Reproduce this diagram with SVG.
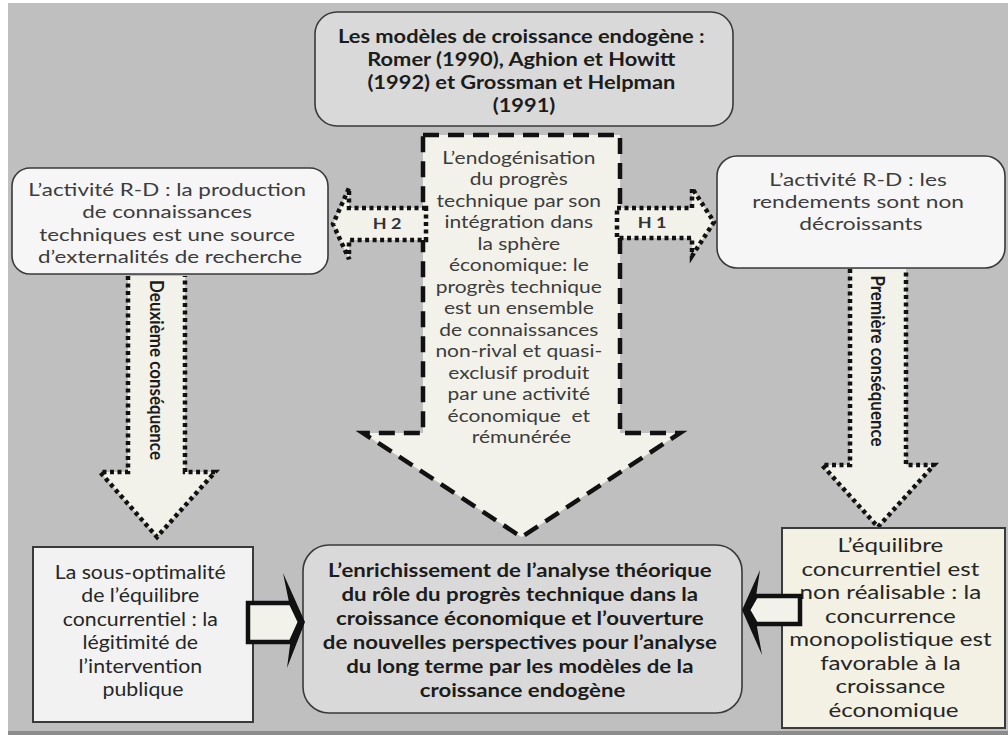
<svg xmlns="http://www.w3.org/2000/svg" width="1008" height="735" viewBox="0 0 1008 735">
<style>
.t{font-family:Lato,"Open Sans","Liberation Sans",sans-serif;text-anchor:middle}
.b{font-weight:700;fill:#1c1c1c;font-size:19px}
.r{font-weight:400;fill:#262626;font-size:19px}
.w{font-weight:400;fill:#3c3c3c;font-size:17.5px}
.lab{font-weight:700;fill:#333;font-size:15px}
.gbox{fill:#d9d9d9;stroke:#3a3a3a;stroke-width:1.6}
.wbox{fill:#f6f6f6;stroke:#3a3a3a;stroke-width:1.6}
.dash{fill:#f2f2ea;stroke:#111;stroke-width:4.5;stroke-dasharray:16 9}
.dot{fill:#f2f2ea;stroke:#111;stroke-width:4.5;stroke-dasharray:4 3.5}
.blk{fill:#f2f2ea;stroke:#111;stroke-width:4.5;stroke-linejoin:miter}
</style>
<rect x="0" y="0" width="1008" height="735" fill="#ffffff"/>
<rect x="8" y="3" width="1000" height="729" fill="#bfbfbf"/>
<rect x="8" y="731" width="1000" height="4" fill="#8c8c8c"/>

<g id="connectors">
  <path class="dash" d="M423,135 H620 V433 H680 L521.5,537 L363,433 H423 Z"/>
  <path class="dot" d="M426,208 H349 V188 L333,224 L349,259 V240 H426 Z"/>
  <path class="dot" d="M617,208 H692 V188 L714,222 L692,256 V238 H617 Z"/>
  <path class="dot" d="M128,276 V472 H100 L157,537 L215,472 H185 V276"/>
  <path class="dot" d="M850,269 V465 H822 L878,527 L934,465 H906 V269"/>
</g>

<g id="node-top">
  <rect class="gbox" x="315" y="12" width="418" height="114" rx="22"/>
  <text class="t b" transform="translate(524,0) scale(1.15,1)">
    <tspan x="0" y="43">Les modèles de croissance endogène :</tspan>
    <tspan x="0" y="66">Romer (1990), Aghion et Howitt</tspan>
    <tspan x="0" y="89">(1992) et Grossman et Helpman</tspan>
    <tspan x="0" y="112">(1991)</tspan>
  </text>
</g>

<g id="node-center-arrow-text">
  <text class="t w" transform="translate(521.5,0) scale(1.2,1)">
    <tspan x="0" y="164">L’endogénisation</tspan>
    <tspan x="0" y="185.5">du progrès</tspan>
    <tspan x="0" y="207">technique par son</tspan>
    <tspan x="0" y="228.5">intégration dans</tspan>
    <tspan x="0" y="250">la sphère</tspan>
    <tspan x="0" y="271.5">économique: le</tspan>
    <tspan x="0" y="293">progrès technique</tspan>
    <tspan x="0" y="314.5">est un ensemble</tspan>
    <tspan x="0" y="336">de connaissances</tspan>
    <tspan x="0" y="357.5">non-rival et quasi-</tspan>
    <tspan x="0" y="379">exclusif produit</tspan>
    <tspan x="0" y="400.5">par une activité</tspan>
    <tspan x="0" y="422">économique&#160; et</tspan>
    <tspan x="0" y="443.5">rémunérée</tspan>
  </text>
</g>

<g id="label-h2">
  <text class="t lab" transform="translate(387,229) scale(1.2,1)" x="0" y="0">H 2</text>
</g>
<g id="label-h1">
  <text class="t lab" transform="translate(652,228) scale(1.2,1)" x="0" y="0">H 1</text>
</g>

<g id="node-left">
  <rect class="wbox" x="12" y="168" width="316" height="106" rx="18"/>
  <text class="t w" transform="translate(170,0) scale(1.28,1)">
    <tspan x="0" y="196">L’activité R-D : la production</tspan>
    <tspan x="0" y="218.5">de connaissances</tspan>
    <tspan x="0" y="241">techniques est une source</tspan>
    <tspan x="0" y="263.5">d’externalités de recherche</tspan>
  </text>
</g>

<g id="node-right">
  <rect class="wbox" x="717" y="156" width="288" height="112" rx="20"/>
  <text class="t w" transform="translate(861,0) scale(1.3,1)">
    <tspan x="0" y="186">L’activité R-D : les</tspan>
    <tspan x="0" y="208">rendements sont non</tspan>
    <tspan x="0" y="230">décroissants</tspan>
  </text>
</g>

<g id="label-deuxieme">
  <text class="t lab" style="font-size:17px;fill:#1c1c1c" transform="translate(157,370) rotate(90) scale(1,1.15)" x="0" y="6">Deuxième conséquence</text>
</g>
<g id="label-premiere">
  <text class="t lab" style="font-size:17px;fill:#1c1c1c" transform="translate(878,361) rotate(90) scale(1,1.15)" x="0" y="6">Première conséquence</text>
</g>

<g id="node-bottom-left">
  <rect x="33" y="547" width="220" height="175" fill="#f2f2f2" stroke="#3a3a3a" stroke-width="2"/>
  <text class="t r" transform="translate(143,0) scale(1.12,1)">
    <tspan x="0" y="579">La sous-optimalité</tspan>
    <tspan x="0" y="602.5">de l’équilibre</tspan>
    <tspan x="0" y="626">concurrentiel : la</tspan>
    <tspan x="0" y="649.5">légitimité de</tspan>
    <tspan x="0" y="673">l’intervention</tspan>
    <tspan x="0" y="696.5">publique</tspan>
  </text>
</g>

<g id="node-bottom-center">
  <rect class="gbox" x="303" y="545" width="439" height="168" rx="26"/>
  <text class="t b" transform="translate(522.5,0) scale(1.17,1)">
    <tspan x="0" y="577">L’enrichissement de l’analyse théorique</tspan>
    <tspan x="0" y="601">du rôle du progrès technique dans la</tspan>
    <tspan x="0" y="625">croissance économique et l’ouverture</tspan>
    <tspan x="0" y="649">de nouvelles perspectives pour l’analyse</tspan>
    <tspan x="0" y="673">du long terme par les modèles de la</tspan>
    <tspan x="0" y="697">croissance endogène</tspan>
  </text>
</g>

<g id="node-bottom-right">
  <rect x="782" y="528" width="223" height="200" fill="#f3f1e4" stroke="#3a3a3a" stroke-width="2"/>
  <text class="t r" transform="translate(893.5,0) scale(1.27,1)">
    <tspan x="0" y="552.5">L’équilibre</tspan>
    <tspan x="0" y="576">concurrentiel est</tspan>
    <tspan x="0" y="599.5">non réalisable : la</tspan>
    <tspan x="0" y="623">concurrence</tspan>
    <tspan x="0" y="646.5">monopolistique est</tspan>
    <tspan x="0" y="670">favorable à la</tspan>
    <tspan x="0" y="693.5">croissance</tspan>
    <tspan x="0" y="717">économique</tspan>
  </text>
</g>

<g id="block-arrows">
  <path d="M283,573 L305,622 L287,668 L293,622 Z" fill="#111"/>
  <path class="blk" d="M248,603 H291 L300,622 L291,642 H248 Z"/>
  <path d="M760,570 L742,610 L762,655 L754,610 Z" fill="#111"/>
  <path class="blk" d="M800,596 H756 L748,610 L756,624 H800 Z"/>
</g>
</svg>
